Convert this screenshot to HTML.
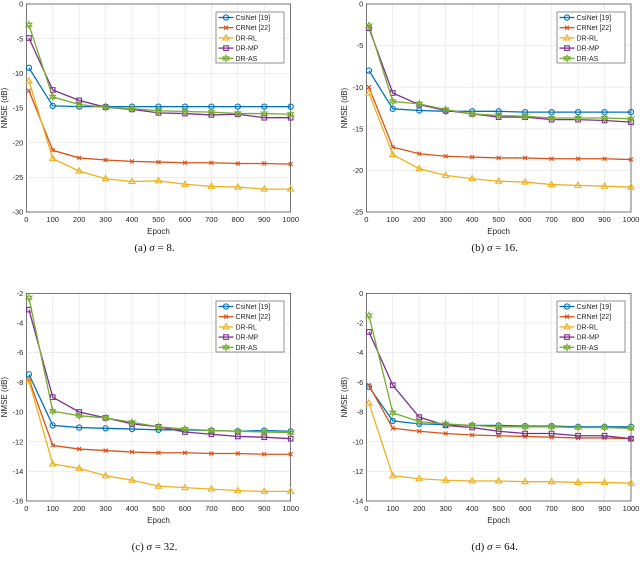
<!DOCTYPE html>
<html><head><meta charset="utf-8"><style>
body{margin:0;background:#fff;width:640px;height:556px;overflow:hidden}
svg text{font-family:"Liberation Sans",sans-serif}
</style></head><body>
<svg id="fig" width="640" height="556" viewBox="0 0 640 556" xmlns="http://www.w3.org/2000/svg"></svg>
<script>
const epochs=[10,100,200,300,400,500,600,700,800,900,1000];
const seriesNames=["CsiNet [19]","CRNet [22]","DR-RL","DR-MP","DR-AS"];
const xTicks=[0,100,200,300,400,500,600,700,800,900,1000];
// panel a
const aCsi=[-9.2,-14.7,-14.8,-14.8,-14.8,-14.8,-14.8,-14.8,-14.8,-14.8,-14.8];
const aCR=[-12.5,-21.1,-22.2,-22.5,-22.7,-22.8,-22.9,-22.9,-23.0,-23.0,-23.1];
const aRL=[-11.1,-22.3,-24.1,-25.2,-25.6,-25.5,-26.0,-26.3,-26.4,-26.7,-26.7];
const aMP=[-4.9,-12.4,-13.9,-14.9,-15.2,-15.7,-15.8,-16.0,-15.9,-16.4,-16.4];
const aAS=[-3.0,-13.4,-14.5,-14.9,-15.1,-15.4,-15.5,-15.6,-15.8,-15.8,-15.9];
const aYTicks=[0,-5,-10,-15,-20,-25,-30];
// panel b
const bCsi=[-8.0,-12.6,-12.8,-12.9,-12.9,-12.9,-13.0,-13.0,-13.0,-13.0,-13.0];
const bCR=[-10.0,-17.2,-18.0,-18.3,-18.4,-18.5,-18.5,-18.6,-18.6,-18.6,-18.7];
const bRL=[-10.7,-18.1,-19.8,-20.6,-21.0,-21.3,-21.4,-21.7,-21.8,-21.9,-22.0];
const bMP=[-2.9,-10.7,-12.1,-12.8,-13.2,-13.6,-13.6,-13.9,-13.9,-14.0,-14.2];
const bAS=[-2.6,-11.7,-12.0,-12.7,-13.2,-13.4,-13.5,-13.7,-13.7,-13.7,-13.8];
const bYTicks=[0,-5,-10,-15,-20,-25];
// panel c
const cCsi=[-7.46,-10.9,-11.05,-11.1,-11.15,-11.2,-11.2,-11.25,-11.3,-11.25,-11.3];
const cCR=[-7.8,-12.25,-12.5,-12.6,-12.7,-12.75,-12.75,-12.8,-12.8,-12.85,-12.85];
const cRL=[-7.9,-13.5,-13.8,-14.3,-14.6,-15.0,-15.1,-15.2,-15.3,-15.35,-15.35];
const cMP=[-3.1,-9.0,-10.0,-10.4,-10.8,-11.0,-11.35,-11.5,-11.65,-11.7,-11.8];
const cAS=[-2.3,-9.95,-10.25,-10.4,-10.7,-11.0,-11.15,-11.25,-11.3,-11.35,-11.4];
const cYTicks=[-2,-4,-6,-8,-10,-12,-14,-16];
// panel d
const dCsi=[-6.3,-8.6,-8.8,-8.85,-8.9,-8.9,-8.95,-8.95,-9.0,-9.0,-9.0];
const dCR=[-6.2,-9.1,-9.3,-9.45,-9.55,-9.6,-9.65,-9.7,-9.75,-9.75,-9.8];
const dRL=[-7.4,-12.3,-12.5,-12.6,-12.65,-12.65,-12.7,-12.7,-12.75,-12.75,-12.8];
const dMP=[-2.6,-6.2,-8.35,-8.9,-9.05,-9.3,-9.45,-9.45,-9.6,-9.6,-9.8];
const dAS=[-1.5,-8.05,-8.65,-8.8,-8.9,-9.0,-9.0,-9.0,-9.05,-9.05,-9.1];
const dYTicks=[0,-2,-4,-6,-8,-10,-12,-14];

const colors=["#0072BD","#D95319","#EDB120","#7E2F8E","#77AC30"];
const markers=["circle","x","triangle","square","star"];
const NS="http://www.w3.org/2000/svg";
const svg=document.getElementById('fig');
function mk(tag,attrs,parent){const e=document.createElementNS(NS,tag);for(const k in attrs)e.setAttribute(k,attrs[k]);(parent||svg).appendChild(e);return e;}
function marker(g,type,x,y,c){
  let m;
  if(type==="circle"){m=mk('circle',{cx:x,cy:y,r:2.6,fill:'none',stroke:c,'stroke-width':1.1},g);}
  else if(type==="x"){m=mk('path',{d:`M${x-2},${y-2}L${x+2},${y+2}M${x-2},${y+2}L${x+2},${y-2}`,stroke:c,'stroke-width':1.1},g);}
  else if(type==="triangle"){m=mk('path',{d:`M${x},${y-3.2}L${x+3},${y+2}L${x-3},${y+2}Z`,fill:'none',stroke:c,'stroke-width':1.1},g);}
  else if(type==="square"){m=mk('rect',{x:x-2.3,y:y-2.3,width:4.6,height:4.6,fill:'none',stroke:c,'stroke-width':1.1},g);}
  else {let p='';for(let i=0;i<12;i++){const r=i%2?1.5:3.3;const a=-Math.PI/2+i*Math.PI/6;p+=(i?'L':'M')+(x+r*Math.cos(a)).toFixed(2)+','+(y+r*Math.sin(a)).toFixed(2);}m=mk('path',{d:p+'Z',fill:'none',stroke:c,'stroke-width':1},g);}
  return m;
}
function panel(id,L,R,T,B,ymax,ymin,yTicks,data,legX,legY,caption,sigma,capY,ylabX){
  const g=mk('g',{});
  
  
  const xs=v=>L+(v-0)/1000*(R-L);
  const ys=v=>T+(ymax-v)/(ymax-ymin)*(B-T);
  mk('rect',{x:L,y:T,width:R-L,height:B-T,fill:'#fff'},g);
  xTicks.forEach(t=>{
    const gl=mk('line',{x1:xs(t),x2:xs(t),y1:T,y2:B,stroke:'#e3e3e3','stroke-width':0.6},g);
    
    const tx=mk('text',{x:xs(t),y:B+10,'font-size':7.5,'text-anchor':'middle',fill:'#262626'},g);tx.textContent=t;
    
  });
  yTicks.forEach(t=>{
    const gl=mk('line',{x1:L,x2:R,y1:ys(t),y2:ys(t),stroke:'#e3e3e3','stroke-width':0.6},g);
    
    const tx=mk('text',{x:L-3,y:ys(t)+2.6,'font-size':7.5,'text-anchor':'end',fill:'#262626'},g);tx.textContent=t;
    
  });
  const box=mk('rect',{x:L,y:T,width:R-L,height:B-T,fill:'none',stroke:'#262626','stroke-width':0.6},g);
  
  const xl=mk('text',{x:(L+R)/2,y:B+22,'font-size':8,'text-anchor':'middle',fill:'#262626'},g);xl.textContent='Epoch';
  
  const yl=mk('text',{x:ylabX,y:(T+B)/2,'font-size':8,'text-anchor':'middle',fill:'#262626',transform:`rotate(-90 ${ylabX} ${(T+B)/2})`},g);yl.textContent='NMSE (dB)';
  
  data.forEach((vals,i)=>{
    const sg=mk('g',{},g);
    
    
    const pts=vals.map((v,j)=>xs(epochs[j]).toFixed(2)+','+ys(v).toFixed(2)).join(' ');
    mk('polyline',{points:pts,fill:'none',stroke:colors[i],'stroke-width':1.3},sg);
    vals.forEach((v,j)=>{const m=marker(sg,markers[i],xs(epochs[j]),ys(v),colors[i]);
      });
  });
  const lg=mk('g',{},g);
  
  mk('rect',{x:legX,y:legY,width:68,height:51,fill:'#fff',stroke:'#262626','stroke-width':0.5},lg);
  seriesNames.forEach((n,i)=>{
    const yy=legY+5.5+i*10.2;
    const e=mk('g',{},lg);
    
    mk('line',{x1:legX+2.5,x2:legX+17.5,y1:yy,y2:yy,stroke:colors[i],'stroke-width':1.3},e);
    marker(e,markers[i],legX+10,yy,colors[i]);
    const t=mk('text',{x:legX+19.5,y:yy+2.5,'font-size':7,fill:'#262626'},e);t.textContent=n;
  });
  const cap=mk('text',{x:(L+R)/2-4,y:capY,'font-size':11,'text-anchor':'middle',fill:'#111'},g);
  
  cap.style.fontFamily='"Liberation Serif",serif';
  const t1=document.createElementNS(NS,'tspan');t1.textContent='('+id+')  ';cap.appendChild(t1);
  const t2=document.createElementNS(NS,'tspan');t2.setAttribute('font-style','italic');t2.textContent='σ';cap.appendChild(t2);
  const t3=document.createElementNS(NS,'tspan');t3.textContent=' = '+sigma+'.';cap.appendChild(t3);
}
panel('a',26.3,290.7,4,212,0,-30,aYTicks,[aCsi,aCR,aRL,aMP,aAS],216,12,'',8,251,7);
panel('b',366.3,631,4,212,0,-25,bYTicks,[bCsi,bCR,bRL,bMP,bAS],557,12,'',16,251,347);
panel('c',26.3,290.7,293.3,501,-2,-16,cYTicks,[cCsi,cCR,cRL,cMP,cAS],216,301,'',32,550,7);
panel('d',366.3,631,293.3,501,0,-14,dYTicks,[dCsi,dCR,dRL,dMP,dAS],557,301,'',64,550,347);
</script>
</body></html>
